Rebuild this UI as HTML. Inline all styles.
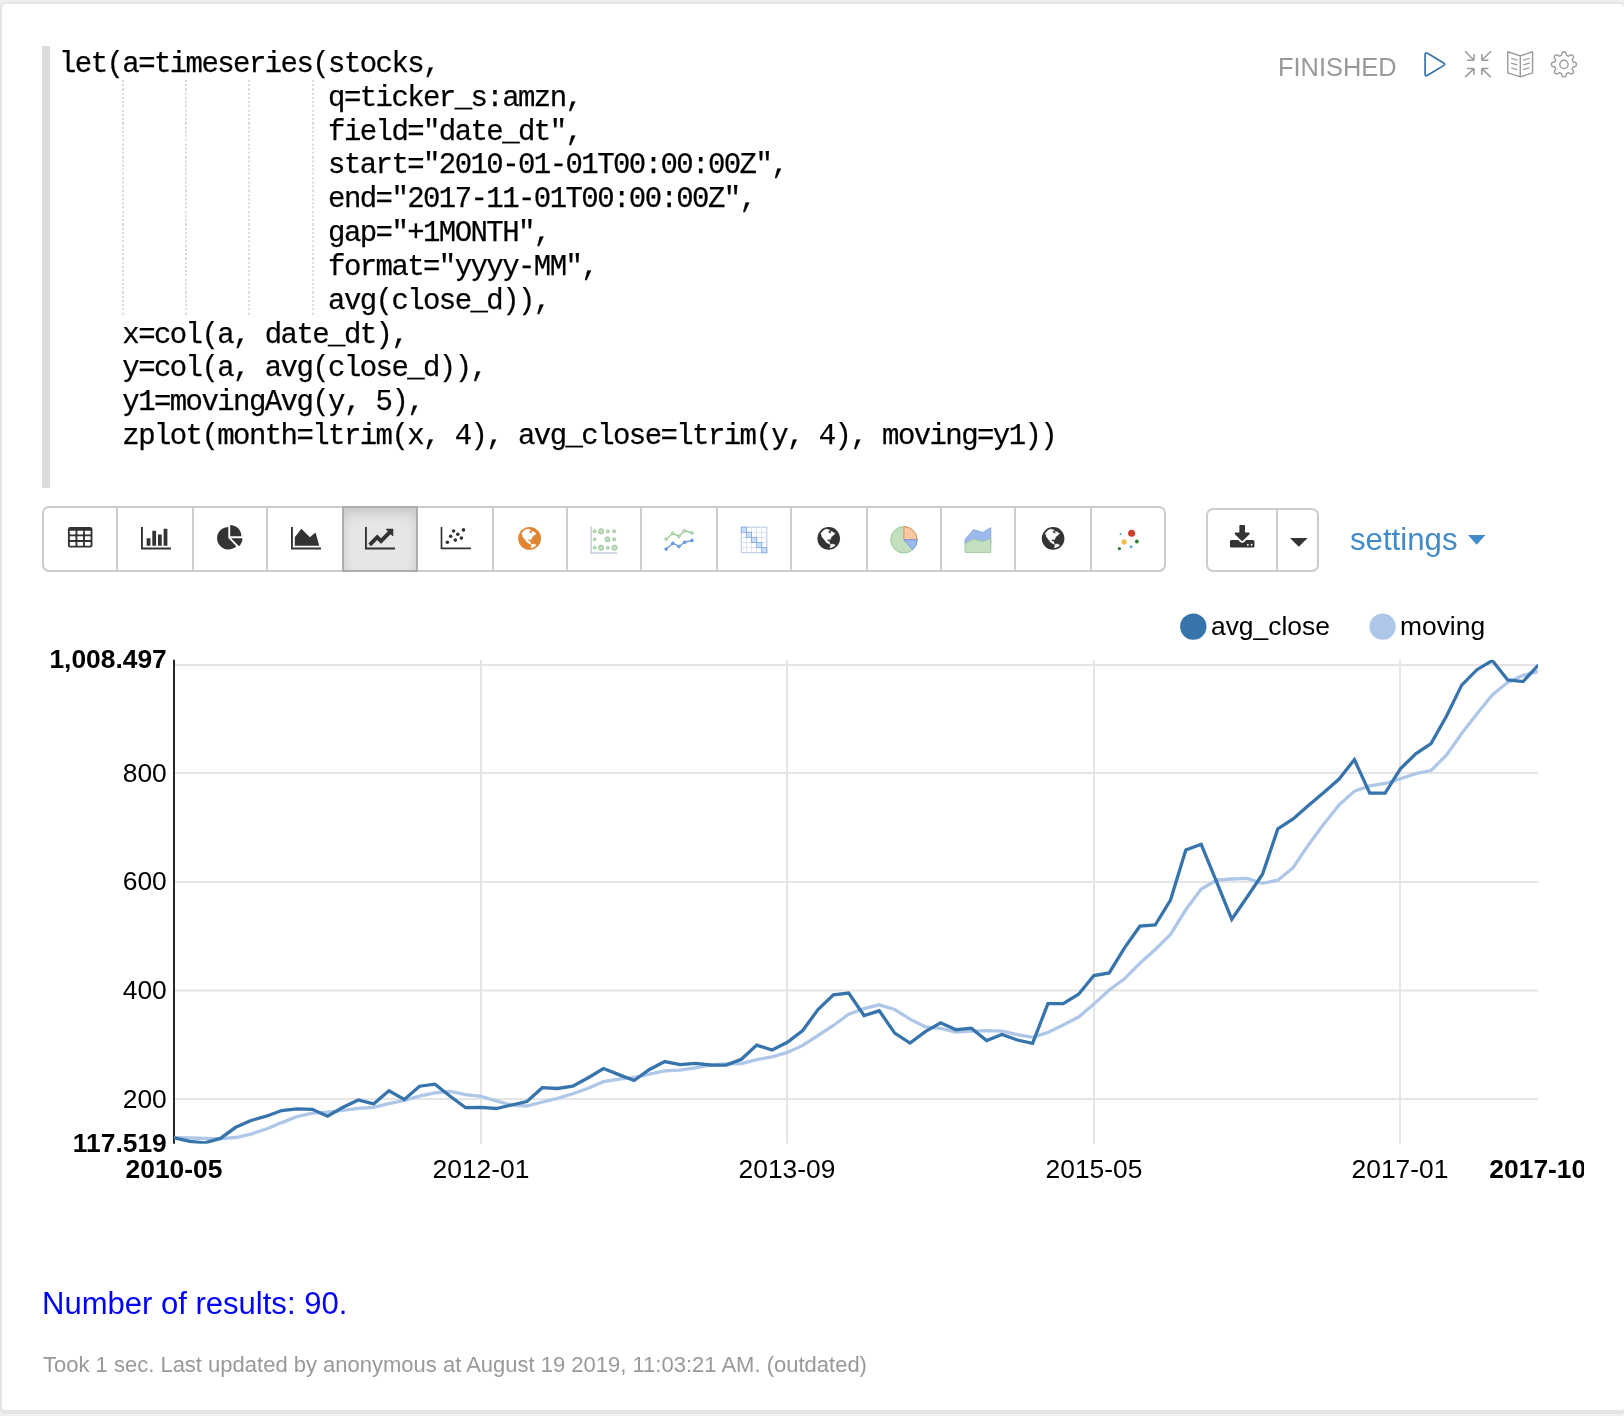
<!DOCTYPE html>
<html>
<head>
<meta charset="utf-8">
<title>Zeppelin paragraph</title>
<style>
html,body{margin:0;padding:0}
body{width:1624px;height:1416px;overflow:hidden;background:#ecf0f1;position:relative;font-family:"Liberation Sans",sans-serif;color:#000}
#box{position:absolute;left:-0.2px;top:2px;width:1626.2px;height:1412px;box-sizing:border-box;border:2px solid #e4e4e4;border-bottom-width:4px;border-radius:6px;background:#fff}
#gutter{position:absolute;left:42px;top:46px;width:8px;height:442px;background:#dcdcdc}
#code{position:absolute;left:59.3px;top:48.1px;margin:0;font-family:"Liberation Mono",monospace;font-size:29px;letter-spacing:-1.575px;line-height:33.82px;color:#000;white-space:pre;-webkit-text-stroke:0.25px #000}
.guide{position:absolute;top:79.8px;height:236.7px;width:1.8px;background-image:repeating-linear-gradient(to bottom,#dadada 0,#dadada 2.1px,transparent 2.1px,transparent 4.2px);background-size:100% 33.82px;background-repeat:repeat-y}
#status{position:absolute;left:1278px;top:52.1px;font-size:25.4px;line-height:30px;color:#999;white-space:nowrap}
.ctl{position:absolute;top:50px}
.btn{position:absolute;top:506.5px;height:64.8px;box-sizing:border-box;border:2.2px solid #ccc;background:#fff}
.btn.first{border-radius:7px 0 0 7px}
.btn.last{border-radius:0 7px 7px 0}
.btn.active{background:#e6e6e6;border-color:#adadad;box-shadow:inset 0 6px 11px rgba(0,0,0,.125);z-index:2}
svg{z-index:3}
#code,#status,#settings,#nres,#foot,#chart{will-change:transform}
.btn svg{position:absolute;left:50%;top:50%}
#settings{position:absolute;left:1350.4px;top:522.2px;font-size:31.2px;line-height:36px;color:#428bca;white-space:nowrap}
#nres{position:absolute;left:42px;top:1285.7px;font-size:31.04px;line-height:36px;color:#0000ff;white-space:nowrap}
#foot{position:absolute;left:42.5px;top:1351.5px;font-size:22px;line-height:26px;color:#999;white-space:nowrap}
#chart{position:absolute;left:0;top:590px;width:1584px;height:640px;overflow:hidden}
#chart text{font-family:"Liberation Sans",sans-serif;font-size:26.4px;fill:#000}
#chart .b{font-weight:bold}
</style>
</head>
<body>
<div id="box"></div>
<div id="gutter"></div>
<div class="guide" style="left:122px"></div>
<div class="guide" style="left:185.1px"></div>
<div class="guide" style="left:248.2px"></div>
<div class="guide" style="left:312px"></div>
<pre id="code">let(a=timeseries(stocks,
                 q=ticker_s:amzn,
                 field="date_dt",
                 start="2010-01-01T00:00:00Z",
                 end="2017-11-01T00:00:00Z",
                 gap="+1MONTH",
                 format="yyyy-MM",
                 avg(close_d)),
    x=col(a, date_dt),
    y=col(a, avg(close_d)),
    y1=movingAvg(y, 5),
    zplot(month=ltrim(x, 4), avg_close=ltrim(y, 4), moving=y1))</pre>

<div id="status">FINISHED</div>
<svg style="position:absolute;left:1400px;top:40px" width="200" height="50" viewBox="1400 40 200 50"><path d="M1425.1,54.6 Q1425.1,51.9 1427.5,53.3 L1443.6,63 Q1445.7,64.3 1443.6,65.6 L1427.5,75.3 Q1425.1,76.7 1425.1,74 Z" fill="none" stroke="#3572ab" stroke-width="1.7" stroke-linejoin="round"/><path d="M1465.1,51.3 L1474,60.2 M1474,60.2 H1467.1 M1474,60.2 V53.9" fill="none" stroke="#9a9a9a" stroke-width="1.5"/><path d="M1490.9,51.3 L1481.8,60.2 M1481.8,60.2 H1488.4 M1481.8,60.2 V53.9" fill="none" stroke="#9a9a9a" stroke-width="1.5"/><path d="M1465.1,77.1 L1474,68.6 M1474,68.6 H1467.1 M1474,68.6 V74.9" fill="none" stroke="#9a9a9a" stroke-width="1.5"/><path d="M1490.9,77.1 L1481.8,68.6 M1481.8,68.6 H1488.4 M1481.8,68.6 V74.9" fill="none" stroke="#9a9a9a" stroke-width="1.5"/><path d="M1507.76,51.7491 L1520.29,55.8501 L1532.59,51.7491 L1532.59,72.9195 L1520.29,76.7989 L1507.76,72.9195 Z M1520.29,55.8501 V76.7989" fill="none" stroke="#9a9a9a" stroke-width="1.4" stroke-linejoin="round"/><path d="M1511.09,58.2886 L1517.29,60.1729 M1523.28,60.1729 L1529.71,58.2886" fill="none" stroke="#9a9a9a" stroke-width="1.2"/><path d="M1511.09,63.0548 L1517.29,64.939 M1523.28,64.939 L1529.71,63.0548" fill="none" stroke="#9a9a9a" stroke-width="1.2"/><path d="M1511.09,67.71 L1517.29,69.5943 M1523.28,69.5943 L1529.71,67.71" fill="none" stroke="#9a9a9a" stroke-width="1.2"/><path d="M1563.95,51.95 L1564.28,51.96 L1564.60,51.99 L1564.92,52.05 L1565.24,52.17 L1565.53,52.38 L1565.79,52.76 L1566.00,53.36 L1566.15,54.06 L1566.29,54.66 L1566.45,55.05 L1566.65,55.29 L1566.86,55.45 L1567.08,55.56 L1567.30,55.67 L1567.53,55.76 L1567.76,55.85 L1567.99,55.94 L1568.22,56.01 L1568.48,56.05 L1568.79,56.02 L1569.18,55.86 L1569.71,55.54 L1570.31,55.14 L1570.88,54.87 L1571.33,54.78 L1571.69,54.84 L1571.99,54.98 L1572.27,55.17 L1572.52,55.37 L1572.75,55.60 L1572.98,55.83 L1573.18,56.08 L1573.37,56.36 L1573.51,56.66 L1573.57,57.02 L1573.48,57.47 L1573.21,58.04 L1572.81,58.64 L1572.49,59.17 L1572.33,59.56 L1572.30,59.87 L1572.34,60.13 L1572.41,60.36 L1572.50,60.59 L1572.59,60.82 L1572.68,61.05 L1572.79,61.27 L1572.90,61.49 L1573.06,61.70 L1573.30,61.90 L1573.69,62.06 L1574.29,62.20 L1574.99,62.35 L1575.59,62.56 L1575.97,62.82 L1576.18,63.11 L1576.30,63.43 L1576.36,63.75 L1576.39,64.07 L1576.40,64.40 L1576.39,64.73 L1576.36,65.05 L1576.30,65.37 L1576.18,65.69 L1575.97,65.98 L1575.59,66.24 L1574.99,66.45 L1574.29,66.60 L1573.69,66.74 L1573.30,66.90 L1573.06,67.10 L1572.90,67.31 L1572.79,67.53 L1572.68,67.75 L1572.59,67.98 L1572.50,68.21 L1572.41,68.44 L1572.34,68.67 L1572.30,68.93 L1572.33,69.24 L1572.49,69.63 L1572.81,70.16 L1573.21,70.76 L1573.48,71.33 L1573.57,71.78 L1573.51,72.14 L1573.37,72.44 L1573.18,72.72 L1572.98,72.97 L1572.75,73.20 L1572.52,73.43 L1572.27,73.63 L1571.99,73.82 L1571.69,73.96 L1571.33,74.02 L1570.88,73.93 L1570.31,73.66 L1569.71,73.26 L1569.18,72.94 L1568.79,72.78 L1568.48,72.75 L1568.22,72.79 L1567.99,72.86 L1567.76,72.95 L1567.53,73.04 L1567.30,73.13 L1567.08,73.24 L1566.86,73.35 L1566.65,73.51 L1566.45,73.75 L1566.29,74.14 L1566.15,74.74 L1566.00,75.44 L1565.79,76.04 L1565.53,76.42 L1565.24,76.63 L1564.92,76.75 L1564.60,76.81 L1564.28,76.84 L1563.95,76.85 L1563.62,76.84 L1563.30,76.81 L1562.98,76.75 L1562.66,76.63 L1562.37,76.42 L1562.11,76.04 L1561.90,75.44 L1561.75,74.74 L1561.61,74.14 L1561.45,73.75 L1561.25,73.51 L1561.04,73.35 L1560.82,73.24 L1560.60,73.13 L1560.37,73.04 L1560.14,72.95 L1559.91,72.86 L1559.68,72.79 L1559.42,72.75 L1559.11,72.78 L1558.72,72.94 L1558.19,73.26 L1557.59,73.66 L1557.02,73.93 L1556.57,74.02 L1556.21,73.96 L1555.91,73.82 L1555.63,73.63 L1555.38,73.43 L1555.15,73.20 L1554.92,72.97 L1554.72,72.72 L1554.53,72.44 L1554.39,72.14 L1554.33,71.78 L1554.42,71.33 L1554.69,70.76 L1555.09,70.16 L1555.41,69.63 L1555.57,69.24 L1555.60,68.93 L1555.56,68.67 L1555.49,68.44 L1555.40,68.21 L1555.31,67.98 L1555.22,67.75 L1555.11,67.53 L1555.00,67.31 L1554.84,67.10 L1554.60,66.90 L1554.21,66.74 L1553.61,66.60 L1552.91,66.45 L1552.31,66.24 L1551.93,65.98 L1551.72,65.69 L1551.60,65.37 L1551.54,65.05 L1551.51,64.73 L1551.50,64.40 L1551.51,64.07 L1551.54,63.75 L1551.60,63.43 L1551.72,63.11 L1551.93,62.82 L1552.31,62.56 L1552.91,62.35 L1553.61,62.20 L1554.21,62.06 L1554.60,61.90 L1554.84,61.70 L1555.00,61.49 L1555.11,61.27 L1555.22,61.05 L1555.31,60.82 L1555.40,60.59 L1555.49,60.36 L1555.56,60.13 L1555.60,59.87 L1555.57,59.56 L1555.41,59.17 L1555.09,58.64 L1554.69,58.04 L1554.42,57.47 L1554.33,57.02 L1554.39,56.66 L1554.53,56.36 L1554.72,56.08 L1554.92,55.83 L1555.15,55.60 L1555.38,55.37 L1555.63,55.17 L1555.91,54.98 L1556.21,54.84 L1556.57,54.78 L1557.02,54.87 L1557.59,55.14 L1558.19,55.54 L1558.72,55.86 L1559.11,56.02 L1559.42,56.05 L1559.68,56.01 L1559.91,55.94 L1560.14,55.85 L1560.37,55.76 L1560.60,55.67 L1560.82,55.56 L1561.04,55.45 L1561.25,55.29 L1561.45,55.05 L1561.61,54.66 L1561.75,54.06 L1561.90,53.36 L1562.11,52.76 L1562.37,52.38 L1562.66,52.17 L1562.98,52.05 L1563.30,51.99 L1563.62,51.96 Z" fill="none" stroke="#9a9a9a" stroke-width="1.4" stroke-linejoin="round"/><circle cx="1563.95" cy="64.4" r="4.15" fill="none" stroke="#9a9a9a" stroke-width="1.4"/></svg>

<div class="btn first" style="left:41.90px;width:76.20px;top:506px;height:66px"></div>
<div class="btn" style="left:115.90px;width:78.20px;top:506px;height:66px"></div>
<div class="btn" style="left:191.90px;width:76.20px;top:506px;height:66px"></div>
<div class="btn" style="left:265.90px;width:78.20px;top:506px;height:66px"></div>
<div class="btn active" style="left:341.90px;width:76.20px;top:506px;height:66px"></div>
<div class="btn" style="left:415.90px;width:78.20px;top:506px;height:66px"></div>
<div class="btn" style="left:491.90px;width:76.20px;top:506px;height:66px"></div>
<div class="btn" style="left:565.90px;width:76.20px;top:506px;height:66px"></div>
<div class="btn" style="left:639.90px;width:78.20px;top:506px;height:66px"></div>
<div class="btn" style="left:715.90px;width:76.20px;top:506px;height:66px"></div>
<div class="btn" style="left:789.90px;width:78.20px;top:506px;height:66px"></div>
<div class="btn" style="left:865.90px;width:76.20px;top:506px;height:66px"></div>
<div class="btn" style="left:939.90px;width:76.20px;top:506px;height:66px"></div>
<div class="btn" style="left:1013.90px;width:78.20px;top:506px;height:66px"></div>
<div class="btn last" style="left:1089.90px;width:76.00px;top:506px;height:66px"></div>
<svg style="position:absolute;left:67.35px;top:525.20px" width="26.40" height="26.4" viewBox="0 0 1792 1792"><rect x="64" y="128" width="1664" height="1408" rx="160" fill="#333"/><rect x="192" y="384" width="384" height="256" rx="32" fill="#fff"/><rect x="704" y="384" width="384" height="256" rx="32" fill="#fff"/><rect x="1216" y="384" width="384" height="256" rx="32" fill="#fff"/><rect x="192" y="768" width="384" height="256" rx="32" fill="#fff"/><rect x="704" y="768" width="384" height="256" rx="32" fill="#fff"/><rect x="1216" y="768" width="384" height="256" rx="32" fill="#fff"/><rect x="192" y="1152" width="384" height="256" rx="32" fill="#fff"/><rect x="704" y="1152" width="384" height="256" rx="32" fill="#fff"/><rect x="1216" y="1152" width="384" height="256" rx="32" fill="#fff"/></svg>
<svg style="position:absolute;left:140.71px;top:525.20px" width="30.17" height="26.4" viewBox="0 0 2048 1792"><path fill="#333" d="M640 896v512h-256v-512h256zm384-512v1024h-256v-1024h256zm1024 1152v128h-2048v-1536h128v1408h1920zm-640-896v768h-256v-768h256zm384-384v1152h-256v-1152h256z"/></svg>
<svg style="position:absolute;left:216.75px;top:525.20px" width="26.40" height="26.4" viewBox="0 0 1792 1792"><path fill="#333" d="M768 890l546 546q-106 108-247.5 168t-298.5 60q-209 0-385.500-103t-279.500-279.500-103-385.500 103-385.500 279.500-279.500 385.500-103v762zm187 6h773q0 157-60 298.500t-168 247.500zm709-128h-768v-768q209 0 385.500 103t279.500 279.500 103 385.500z"/></svg>
<svg style="position:absolute;left:290.56px;top:525.20px" width="30.17" height="26.4" viewBox="0 0 2048 1792"><path fill="#333" d="M2048 1536v128h-2048v-1536h128v1408h1920zm-384-1024l256 896h-1664v-576l448-576 576 576z"/></svg>
<svg style="position:absolute;left:365.11px;top:525.20px" width="30.17" height="26.4" viewBox="0 0 2048 1792"><path fill="#333" d="M2048 1536v128h-2048v-1536h128v1408h1920zm-128-1248v435q0 21-19.500 29.500t-35.500-7.500l-121-121-633 633q-10 10-23 10t-23-10l-233-233-416 416-192-192 585-585q10-10 23-10t23 10l233 233 464-464-121-121q-16-16-7.500-35.500t29.500-19.500h435q14 0 23 9t9 23z"/></svg>
<svg style="position:absolute;left:0px;top:500px" width="1200" height="80" viewBox="0 500 1200 80"><path d="M441.5,526.9V548.3H470.9" fill="none" stroke="#333" stroke-width="1.7"/><circle cx="447.4" cy="542.2" r="1.8" fill="#333"/><circle cx="450.7" cy="536.3" r="1.8" fill="#333"/><circle cx="453.6" cy="531" r="1.8" fill="#333"/><circle cx="455.3" cy="540.1" r="1.8" fill="#333"/><circle cx="457.8" cy="534.2" r="1.8" fill="#333"/><circle cx="461.4" cy="538.1" r="1.8" fill="#333"/><circle cx="463.5" cy="529.9" r="1.8" fill="#333"/><g transform="translate(529.60,538.40) scale(0.1140)"><circle r="100" fill="#e08432"/><path fill="#fff" stroke="#fff" stroke-width="3" stroke-linejoin="round" d="M-70.5,-44.3 L-50,-67 L-29.5,-80.7 L-11.4,-81.8 L4.5,-75 L13.6,-71.6 L0,-64.8 L-8,-53.4 L6.8,-50 L13.6,-40.2 L20.5,-46.6 L19.3,-61.4 L29.5,-60.2 L45.5,-51.1 L58,-43.2 L47.7,-34.1 L36.4,-23.9 L25,-14.8 L19.3,-3.4 L14.8,9.1 L9.1,11.4 L1.1,6.8 L-9.1,10.2 L-13.6,19.3 L-9.1,27.3 L0,23.9 L5.7,28.4 L8,39.8 L12.5,48.9 L6.8,51.1 L-4.5,44.3 L-18.2,37.5 L-27.3,28.4 L-36.4,14.8 L-50,-1.1 L-61.4,-17 L-63.6,-33 Z"/><path fill="#fff" stroke="#fff" stroke-width="3" stroke-linejoin="round" d="M13.6,54.5 L29.5,48.9 L50,53.4 L59.1,60.2 L47.7,69.3 L31.8,78.4 L13.6,84.1 L10.2,77.3 L17,64.8 Z"/></g><path d="M591.1,526.6V552.9H617.4" fill="none" stroke="#c3cbe0" stroke-width="1.5"/><circle cx="594.6" cy="531.3" r="1.4" fill="#c4e0c4" stroke="#8fc493" stroke-width="0.9"/><circle cx="601.1" cy="531.3" r="2.6" fill="#c4e0c4" stroke="#8fc493" stroke-width="0.9"/><circle cx="607.8" cy="531.3" r="1.5" fill="#c4e0c4" stroke="#8fc493" stroke-width="0.9"/><circle cx="614.2" cy="531.3" r="1.5" fill="#c4e0c4" stroke="#8fc493" stroke-width="0.9"/><circle cx="594.6" cy="539.4" r="1.4" fill="#c4e0c4" stroke="#8fc493" stroke-width="0.9"/><circle cx="607.4" cy="539.4" r="2.5" fill="#c4e0c4" stroke="#8fc493" stroke-width="0.9"/><circle cx="614.2" cy="539.4" r="1.5" fill="#c4e0c4" stroke="#8fc493" stroke-width="0.9"/><circle cx="594.6" cy="547.7" r="1.5" fill="#c4e0c4" stroke="#8fc493" stroke-width="0.9"/><circle cx="601.1" cy="547.7" r="2.6" fill="#c4e0c4" stroke="#8fc493" stroke-width="0.9"/><circle cx="607.8" cy="547.7" r="1.5" fill="#c4e0c4" stroke="#8fc493" stroke-width="0.9"/><circle cx="614.5" cy="547.7" r="2.6" fill="#c4e0c4" stroke="#8fc493" stroke-width="0.9"/><path d="M666.2,539.1 L672.9,533.4 L678.9,536.3 L684.3,530.8 L692,532.9" fill="none" stroke="#8fc08f" stroke-width="1.2"/><circle cx="666.2" cy="539.1" r="1.5" fill="#b9dcb9" stroke="#8fc08f" stroke-width="0.6"/><circle cx="672.9" cy="533.4" r="1.5" fill="#b9dcb9" stroke="#8fc08f" stroke-width="0.6"/><circle cx="678.9" cy="536.3" r="1.5" fill="#b9dcb9" stroke="#8fc08f" stroke-width="0.6"/><circle cx="684.3" cy="530.8" r="1.5" fill="#b9dcb9" stroke="#8fc08f" stroke-width="0.6"/><circle cx="692" cy="532.9" r="1.5" fill="#b9dcb9" stroke="#8fc08f" stroke-width="0.6"/><path d="M666.2,549.1 L672.9,543.3 L678.9,546.4 L684.7,542.2 L692,540.4" fill="none" stroke="#5b8ed8" stroke-width="1.2"/><circle cx="666.2" cy="549.1" r="1.5" fill="#6f9be0" stroke="#5b8ed8" stroke-width="0.6"/><circle cx="672.9" cy="543.3" r="1.5" fill="#6f9be0" stroke="#5b8ed8" stroke-width="0.6"/><circle cx="678.9" cy="546.4" r="1.5" fill="#6f9be0" stroke="#5b8ed8" stroke-width="0.6"/><circle cx="684.7" cy="542.2" r="1.5" fill="#6f9be0" stroke="#5b8ed8" stroke-width="0.6"/><circle cx="692" cy="540.4" r="1.5" fill="#6f9be0" stroke="#5b8ed8" stroke-width="0.6"/><rect x="741.3" y="527.2" width="25.5" height="25.5" fill="#fff" stroke="#b5c4e0" stroke-width="1"/><path d="M746.4,527.2V552.7M741.3,532.3H766.8" stroke="#dbe3f0" stroke-width="1" fill="none"/><path d="M751.5,527.2V552.7M741.3,537.4H766.8" stroke="#dbe3f0" stroke-width="1" fill="none"/><path d="M756.6,527.2V552.7M741.3,542.5H766.8" stroke="#dbe3f0" stroke-width="1" fill="none"/><path d="M761.7,527.2V552.7M741.3,547.6H766.8" stroke="#dbe3f0" stroke-width="1" fill="none"/><rect x="741.3" y="527.2" width="5.1" height="5.1" fill="#c6e2ff" stroke="#8fb0e3" stroke-width="1"/><rect x="746.4" y="532.3" width="5.1" height="5.1" fill="#c6e2ff" stroke="#8fb0e3" stroke-width="1"/><rect x="751.5" y="537.4" width="5.1" height="5.1" fill="#c6e2ff" stroke="#8fb0e3" stroke-width="1"/><rect x="756.6" y="542.5" width="5.1" height="5.1" fill="#c6e2ff" stroke="#8fb0e3" stroke-width="1"/><rect x="761.7" y="547.6" width="5.1" height="5.1" fill="#c6e2ff" stroke="#8fb0e3" stroke-width="1"/><g transform="translate(828.70,538.40) scale(0.1130)"><circle r="100" fill="#333"/><path fill="#fff" stroke="#fff" stroke-width="3" stroke-linejoin="round" d="M-70.5,-44.3 L-50,-67 L-29.5,-80.7 L-11.4,-81.8 L4.5,-75 L13.6,-71.6 L0,-64.8 L-8,-53.4 L6.8,-50 L13.6,-40.2 L20.5,-46.6 L19.3,-61.4 L29.5,-60.2 L45.5,-51.1 L58,-43.2 L47.7,-34.1 L36.4,-23.9 L25,-14.8 L19.3,-3.4 L14.8,9.1 L9.1,11.4 L1.1,6.8 L-9.1,10.2 L-13.6,19.3 L-9.1,27.3 L0,23.9 L5.7,28.4 L8,39.8 L12.5,48.9 L6.8,51.1 L-4.5,44.3 L-18.2,37.5 L-27.3,28.4 L-36.4,14.8 L-50,-1.1 L-61.4,-17 L-63.6,-33 Z"/><path fill="#fff" stroke="#fff" stroke-width="3" stroke-linejoin="round" d="M13.6,54.5 L29.5,48.9 L50,53.4 L59.1,60.2 L47.7,69.3 L31.8,78.4 L13.6,84.1 L10.2,77.3 L17,64.8 Z"/></g><circle cx="903.9" cy="539.8" r="13.2" fill="#c4dfc0" stroke="#8fc795" stroke-width="0.9"/><path d="M903.9,539.8 V526.6 A13.2,13.2 0 0 1 917.1,539.8 Z" fill="#f7caa3" stroke="#d98c57" stroke-width="0.9"/><path d="M903.9,539.8 H917.1 A13.2,13.2 0 0 1 912.73,549.61 Z" fill="#9dbaee" stroke="#6f93d8" stroke-width="0.9"/><path d="M965,539.4 L973.4,529.7 L982.9,532.4 L990.8,527.6 V545 H965 Z" fill="#9bb9ec" stroke="#7fa0dc" stroke-width="0.8"/><path d="M965,543.6 L973.4,539.1 L982.9,541.5 L990.8,538.3 V552.6 H965 Z" fill="#c4dfc0" stroke="#95c795" stroke-width="0.8"/><g transform="translate(1053.10,538.40) scale(0.1130)"><circle r="100" fill="#333"/><path fill="#fff" stroke="#fff" stroke-width="3" stroke-linejoin="round" d="M-70.5,-44.3 L-50,-67 L-29.5,-80.7 L-11.4,-81.8 L4.5,-75 L13.6,-71.6 L0,-64.8 L-8,-53.4 L6.8,-50 L13.6,-40.2 L20.5,-46.6 L19.3,-61.4 L29.5,-60.2 L45.5,-51.1 L58,-43.2 L47.7,-34.1 L36.4,-23.9 L25,-14.8 L19.3,-3.4 L14.8,9.1 L9.1,11.4 L1.1,6.8 L-9.1,10.2 L-13.6,19.3 L-9.1,27.3 L0,23.9 L5.7,28.4 L8,39.8 L12.5,48.9 L6.8,51.1 L-4.5,44.3 L-18.2,37.5 L-27.3,28.4 L-36.4,14.8 L-50,-1.1 L-61.4,-17 L-63.6,-33 Z"/><path fill="#fff" stroke="#fff" stroke-width="3" stroke-linejoin="round" d="M13.6,54.5 L29.5,48.9 L50,53.4 L59.1,60.2 L47.7,69.3 L31.8,78.4 L13.6,84.1 L10.2,77.3 L17,64.8 Z"/></g><circle cx="1131.6" cy="533.3" r="3.5" fill="#cb3f2e"/><circle cx="1124.1" cy="541.9" r="2.6" fill="#efc04a"/><circle cx="1136.9" cy="541.5" r="1.9" fill="#2e7d32"/><circle cx="1119.4" cy="548.7" r="1.6" fill="#2e7d32"/><circle cx="1131.1" cy="546.8" r="1.4" fill="#3aa6c9"/><circle cx="1120.6" cy="534" r="1" fill="#3aa6c9"/></svg>
<div class="btn" style="left:1206.1px;width:71.7px;top:508.2px;height:63.8px;border-radius:7px 0 0 7px"></div>
<div class="btn" style="left:1275.6px;width:43.9px;top:508.2px;height:63.8px;border-radius:0 7px 7px 0"></div>
<svg style="position:absolute;left:1228.50px;top:525.00px" width="26.40" height="26.4" viewBox="0 0 1792 1792"><path fill="#333" d="M1344 1344q0-26-19-45t-45-19-45 19-19 45 19 45 45 19 45-19 19-45zm256 0q0-26-19-45t-45-19-45 19-19 45 19 45 45 19 45-19 19-45zm128-224v320q0 40-28 68t-68 28h-1472q-40 0-68-28t-28-68v-320q0-40 28-68t68-28h465l135 136q58 56 136 56t136-56l136-136h464q40 0 68 28t28 68zm-325-569q17 41-14 70l-448 448q-18 19-45 19t-45-19l-448-448q-31-29-14-70 17-39 59-39h256v-448q0-26 19-45t45-19h256q26 0 45 19t19 45v448h256q42 0 59 39z"/></svg>
<svg style="position:absolute;left:1290.2px;top:537.9px" width="17.6" height="8.8" viewBox="0 0 17.6 8.8"><path d="M0,0H17.6L8.8,8.8Z" fill="#333"/></svg>

<div id="settings">settings</div>
<svg style="position:absolute;left:1467.8px;top:534.8px" width="17.4" height="9.8" viewBox="0 0 17.4 9.8"><path d="M0,0H17.4L8.7,9.8Z" fill="#428bca"/></svg>

<svg id="chart" width="1584" height="640" viewBox="0 590 1584 640">
  <g stroke="#e5e5e5" stroke-width="2" fill="none">
    <path d="M175,665H1538M175,773H1538M175,882H1538M175,990.45H1538M175,1099H1538"/>
    <path d="M481,659.9V1143.7M787,659.9V1143.7M1094,659.9V1143.7M1400,659.9V1143.7"/>
  </g>
  <path d="M174,659.7V1143.8" stroke="#262626" stroke-width="2" fill="none"/>
  <clipPath id="cp"><rect x="174" y="660" width="1364" height="483.8"/></clipPath>
  <g clip-path="url(#cp)">
  <path d="M174.4,1137.6 L189.7,1138.0 L205.0,1138.4 L220.4,1138.6 L235.7,1137.5 L251.0,1134.1 L266.3,1129.0 L281.7,1122.6 L297.0,1116.7 L312.3,1113.1 L327.6,1112.2 L343.0,1110.4 L358.3,1108.3 L373.6,1107.3 L388.9,1103.6 L404.3,1100.3 L419.6,1096.1 L434.9,1092.9 L450.2,1091.4 L465.6,1094.7 L480.9,1096.3 L496.2,1100.8 L511.5,1105.0 L526.9,1106.0 L542.2,1102.0 L557.5,1098.3 L572.8,1093.8 L588.2,1088.3 L603.5,1081.7 L618.8,1079.1 L634.1,1077.5 L649.5,1074.2 L664.8,1070.9 L680.1,1070.2 L695.4,1067.9 L710.8,1064.8 L726.1,1064.0 L741.4,1063.5 L756.7,1059.6 L772.1,1056.9 L787.4,1052.4 L802.7,1045.4 L818.0,1035.5 L833.4,1025.5 L848.7,1014.1 L864.0,1008.7 L879.3,1004.8 L894.7,1009.5 L910.0,1019.1 L925.3,1026.8 L940.6,1028.3 L956.0,1032.1 L971.3,1031.1 L986.6,1030.6 L1001.9,1031.1 L1017.3,1034.6 L1032.6,1037.3 L1047.9,1032.4 L1063.2,1025.0 L1078.6,1017.0 L1093.9,1004.1 L1109.2,990.0 L1124.5,978.8 L1139.9,963.3 L1155.2,949.5 L1170.5,934.4 L1185.8,909.8 L1201.2,889.1 L1216.5,880.2 L1231.8,879.0 L1247.1,878.4 L1262.5,883.3 L1277.8,880.2 L1293.1,867.7 L1308.4,844.9 L1323.8,824.0 L1339.1,805.0 L1354.4,791.1 L1369.7,785.9 L1385.1,783.5 L1400.4,778.8 L1415.7,773.7 L1431.0,770.5 L1446.4,755.1 L1461.7,733.5 L1477.0,713.7 L1492.3,695.0 L1507.7,682.3 L1523.0,675.4 L1538.3,671.4" stroke="#aec7e8" stroke-width="3.3" fill="none" stroke-linejoin="miter"/>
  <path d="M174.4,1137.8 L189.7,1141.3 L205.0,1142.8 L220.4,1138.4 L235.7,1127.3 L251.0,1120.5 L266.3,1116.2 L281.7,1110.5 L297.0,1108.8 L312.3,1109.3 L327.6,1116.2 L343.0,1107.3 L358.3,1100.0 L373.6,1103.9 L388.9,1090.8 L404.3,1099.4 L419.6,1086.2 L434.9,1084.2 L450.2,1096.2 L465.6,1107.7 L480.9,1107.4 L496.2,1108.5 L511.5,1105.0 L526.9,1101.6 L542.2,1087.7 L557.5,1088.5 L572.8,1086.2 L588.2,1077.7 L603.5,1068.5 L618.8,1074.6 L634.1,1080.5 L649.5,1069.5 L664.8,1061.6 L680.1,1064.7 L695.4,1063.4 L710.8,1065.0 L726.1,1065.1 L741.4,1059.3 L756.7,1045.1 L772.1,1050.0 L787.4,1042.3 L802.7,1030.5 L818.0,1009.6 L833.4,994.9 L848.7,993.1 L864.0,1015.5 L879.3,1010.8 L894.7,1033.1 L910.0,1043.1 L925.3,1031.6 L940.6,1022.8 L956.0,1029.7 L971.3,1028.2 L986.6,1040.5 L1001.9,1034.4 L1017.3,1040.0 L1032.6,1043.4 L1047.9,1003.6 L1063.2,1003.6 L1078.6,994.2 L1093.9,975.5 L1109.2,972.9 L1124.5,947.8 L1139.9,926.2 L1155.2,925.0 L1170.5,900.0 L1185.8,850.0 L1201.2,844.3 L1216.5,881.6 L1231.8,919.3 L1247.1,897.0 L1262.5,874.2 L1277.8,828.9 L1293.1,819.0 L1308.4,805.5 L1323.8,792.4 L1339.1,779.0 L1354.4,759.6 L1369.7,793.2 L1385.1,793.2 L1400.4,768.8 L1415.7,753.9 L1431.0,743.6 L1446.4,716.2 L1461.7,685.1 L1477.0,669.7 L1492.3,660.5 L1507.7,680.0 L1523.0,681.6 L1538.3,665.1" stroke="#3674ab" stroke-width="3.3" fill="none" stroke-linejoin="miter"/>
  </g>
  <g text-anchor="end">
    <text class="b" x="166.8" y="668.2">1,008.497</text>
    <text x="166.8" y="781.8">800</text>
    <text x="166.8" y="890.4">600</text>
    <text x="166.8" y="999">400</text>
    <text x="166.8" y="1107.8">200</text>
    <text class="b" x="166.8" y="1151.8">117.519</text>
  </g>
  <g text-anchor="middle">
    <text class="b" x="174" y="1178">2010-05</text>
    <text x="481" y="1178">2012-01</text>
    <text x="787" y="1178">2013-09</text>
    <text x="1094" y="1178">2015-05</text>
    <text x="1400" y="1178">2017-01</text>
    <text class="b" x="1537.8" y="1178">2017-10</text>
  </g>
  <circle cx="1193.3" cy="626.6" r="13.2" fill="#3674ab"/>
  <text x="1211" y="635.3">avg_close</text>
  <circle cx="1382.6" cy="626.6" r="13.2" fill="#aec7e8"/>
  <text x="1400" y="635.3">moving</text>
</svg>

<div id="nres">Number of results: 90.</div>
<div id="foot">Took 1 sec. Last updated by anonymous at August 19 2019, 11:03:21 AM. (outdated)</div>
</body>
</html>
